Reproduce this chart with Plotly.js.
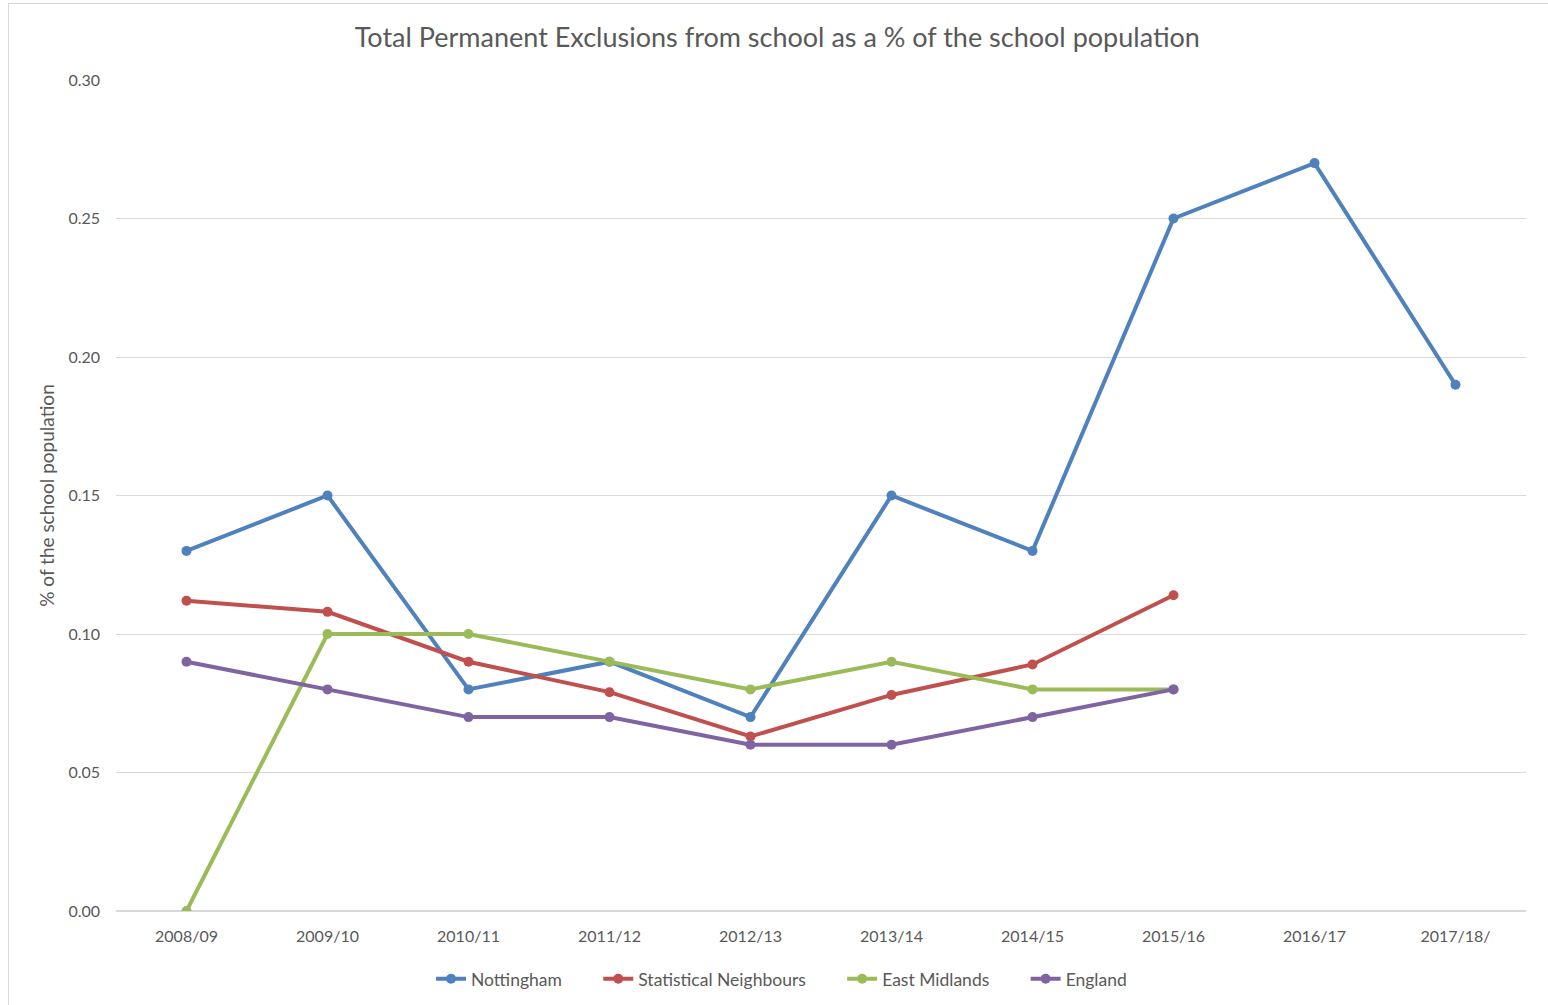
<!DOCTYPE html>
<html>
<head>
<meta charset="utf-8">
<script src="https://cdn.plot.ly/plotly-3.0.1.min.js"></script>
<style>
html,body{margin:0;padding:0;background:#fff;overflow:hidden;width:1548px;height:1005px;}
#chart{position:absolute;left:8px;top:3px;width:1560px;height:1020px;border:1px solid #d9d9d9;}
</style>
</head>
<body>
<div id="chart"></div>
<script>
const years = ["2008/09","2009/10","2010/11","2011/12","2012/13","2013/14","2014/15","2015/16","2016/17","2017/18/"];
const seriesNames = ["Nottingham","Statistical Neighbours","East Midlands","England"];
const nottingham = [0.13,0.15,0.08,0.09,0.07,0.15,0.13,0.25,0.27,0.19];
const statNeighbours = [0.112,0.108,0.09,0.079,0.063,0.078,0.089,0.114];
const eastMidlands = [0.00,0.10,0.10,0.09,0.08,0.09,0.08,0.08];
const england = [0.09,0.08,0.07,0.07,0.06,0.06,0.07,0.08];

const pad = '\u00a0'.repeat(7);
function series(name, vals, color, last){
  return {
    type:'scatter', mode:'lines+markers', name: last ? name : name + pad,
    x: years.slice(0, vals.length), y: vals,
    line:{color:color, width:4},
    marker:{color:color, size:10, symbol:'circle'}
  };
}
const data = [
  series(seriesNames[0], nottingham, '#4F81BD'),
  series(seriesNames[1], statNeighbours, '#C0504D'),
  series(seriesNames[2], eastMidlands, '#9BBB59'),
  series(seriesNames[3], england, '#8064A2', true)
];
const font = "Lato, 'Open Sans', sans-serif";
const layout = {
  width:1560, height:1020,
  margin:{l:107, r:43, t:76, b:113, autoexpand:false},
  paper_bgcolor:'#fff', plot_bgcolor:'#fff',
  font:{family:font, color:'#595959', size:16},
  title:{text:'Total Permanent Exclusions from school as a % of the school population',
    font:{size:27, color:'#595959', family:font}, x:0.4925, xanchor:'center', xref:'container',
    y:0.967, yanchor:'middle'},
  xaxis:{type:'category', categoryorder:'array', categoryarray:years, range:[-0.5,9.5],
    showgrid:false, showline:false, zeroline:false, ticks:'', ticklabelstandoff:14,
    tickangle:0, tickfont:{size:16, color:'#595959'}},
  yaxis:{range:[0,0.30], dtick:0.05, tickformat:'.2f', showgrid:true, gridcolor:'#d9d9d9', gridwidth:1,
    zeroline:true, zerolinecolor:'#d9d9d9', zerolinewidth:1.5, showline:false, ticks:'', ticklabelstandoff:15,
    tickfont:{size:16, color:'#595959'},
    title:{text:'% of the school population', font:{size:19, color:'#595959'}, standoff:8}},
  legend:{orientation:'h', x:0.472, xanchor:'center', y:-0.06, yanchor:'top',
    font:{size:17.5, color:'#595959'}, traceorder:'normal'},
  showlegend:true
};
Plotly.newPlot('chart', data, layout, {displayModeBar:false, staticPlot:true});
</script>
</body>
</html>
